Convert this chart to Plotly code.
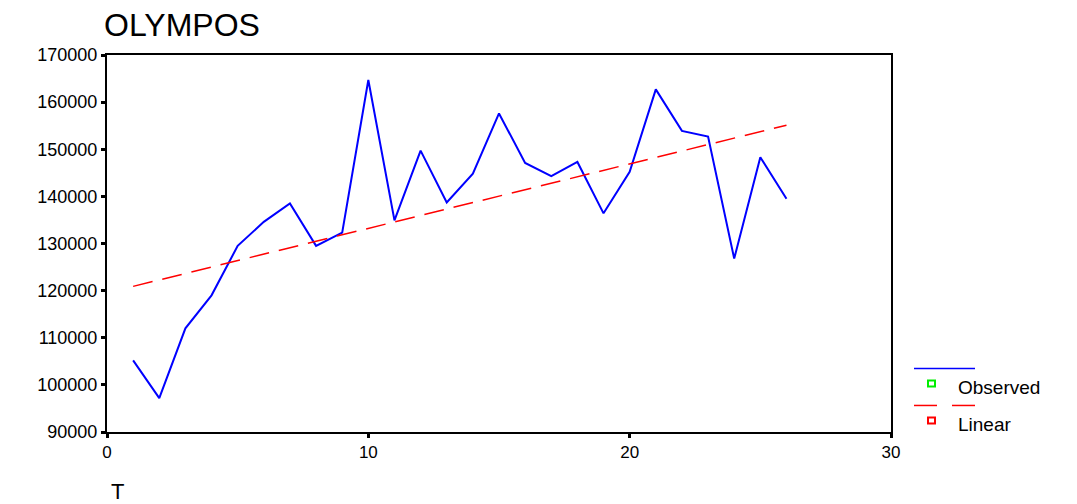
import plotly.graph_objects as go

# Data
t_values = list(range(1, 27))
observed = [105200, 97200, 112000, 119000, 129500, 134600, 138500, 129500, 132300,
            164700, 134900, 149700, 138700, 144800, 157600, 147100, 144300, 147300,
            136400, 145200, 162700, 153900, 152700, 126800, 148300, 139500]
linear_t = [1, 26]
linear_vals = [120900, 155100]

x_ticks = [0, 10, 20, 30]
y_ticks = list(range(90000, 170001, 10000))

FONT = "Liberation Sans, Arial, sans-serif"
OFF = 8  # page body margin offset in the browser

fig = go.Figure()
fig.add_trace(go.Scatter(x=t_values, y=observed, mode="lines",
                         line=dict(color="#0000ff", width=2), name="Observed",
                         showlegend=False))
fig.add_trace(go.Scatter(x=linear_t, y=linear_vals, mode="lines",
                         line=dict(color="#ff0000", width=1.5, dash="20px,10px"),
                         name="Linear", showlegend=False))

W, H = 1077 - OFF, 504 - OFF
fig.update_layout(
    width=W, height=H,
    margin=dict(l=107 - OFF, r=1077 - 891, t=55 - OFF, b=72, autoexpand=False),
    paper_bgcolor="white", plot_bgcolor="white",
    font=dict(family=FONT, color="black"),
    title=dict(text="OLYMPOS", xref="container", x=(104 - OFF) / W, xanchor="left",
               yref="container", y=1 - (25 - OFF) / H, yanchor="middle",
               font=dict(size=32, family=FONT, color="black")),
)
fig.update_xaxes(range=[0, 30], tickvals=x_ticks, ticks="outside", ticklen=4, tickwidth=3,
                 tickcolor="black", showline=True, linecolor="black", linewidth=2,
                 mirror=True, showgrid=False, zeroline=False, automargin=False,
                 tickfont=dict(size=17, family=FONT))
fig.update_yaxes(range=[90000, 170000], tickvals=y_ticks, ticks="outside", ticklen=4,
                 tickwidth=3, tickcolor="black", showline=True, linecolor="black",
                 linewidth=2, mirror=True, showgrid=False, zeroline=False,
                 automargin=False, tickformat="d", tickfont=dict(size=18, family=FONT))

def px2x(px):
    return (px - 107) / (891 - 107)

def py2y(py):
    return (431.5 - py) / (431.5 - 55)

# Axis title "T"
fig.add_annotation(text="T", xref="paper", yref="paper", x=px2x(117), y=py2y(476),
                   xanchor="center", yanchor="top", showarrow=False,
                   font=dict(size=22, family=FONT))

# Custom legend (SPSS style)
fig.add_shape(type="line", xref="paper", yref="paper", x0=px2x(914), x1=px2x(975),
              y0=py2y(368), y1=py2y(368), line=dict(color="#0000ff", width=1.5))
fig.add_shape(type="rect", xref="paper", yref="paper", x0=px2x(928), x1=px2x(935),
              y0=py2y(386), y1=py2y(380), line=dict(color="#00ee00", width=2))
fig.add_annotation(text="Observed", xref="paper", yref="paper", x=px2x(956), y=py2y(387),
                   xanchor="left", yanchor="middle", showarrow=False,
                   font=dict(size=19, family=FONT))
fig.add_shape(type="line", xref="paper", yref="paper", x0=px2x(914), x1=px2x(937),
              y0=py2y(405), y1=py2y(405), line=dict(color="#ff0000", width=1.5))
fig.add_shape(type="line", xref="paper", yref="paper", x0=px2x(952), x1=px2x(975),
              y0=py2y(405), y1=py2y(405), line=dict(color="#ff0000", width=1.5))
fig.add_shape(type="rect", xref="paper", yref="paper", x0=px2x(928), x1=px2x(935),
              y0=py2y(423), y1=py2y(417), line=dict(color="#ff0000", width=2))
fig.add_annotation(text="Linear", xref="paper", yref="paper", x=px2x(956), y=py2y(424),
                   xanchor="left", yanchor="middle", showarrow=False,
                   font=dict(size=19, family=FONT))

fig.write_html("out.html")
